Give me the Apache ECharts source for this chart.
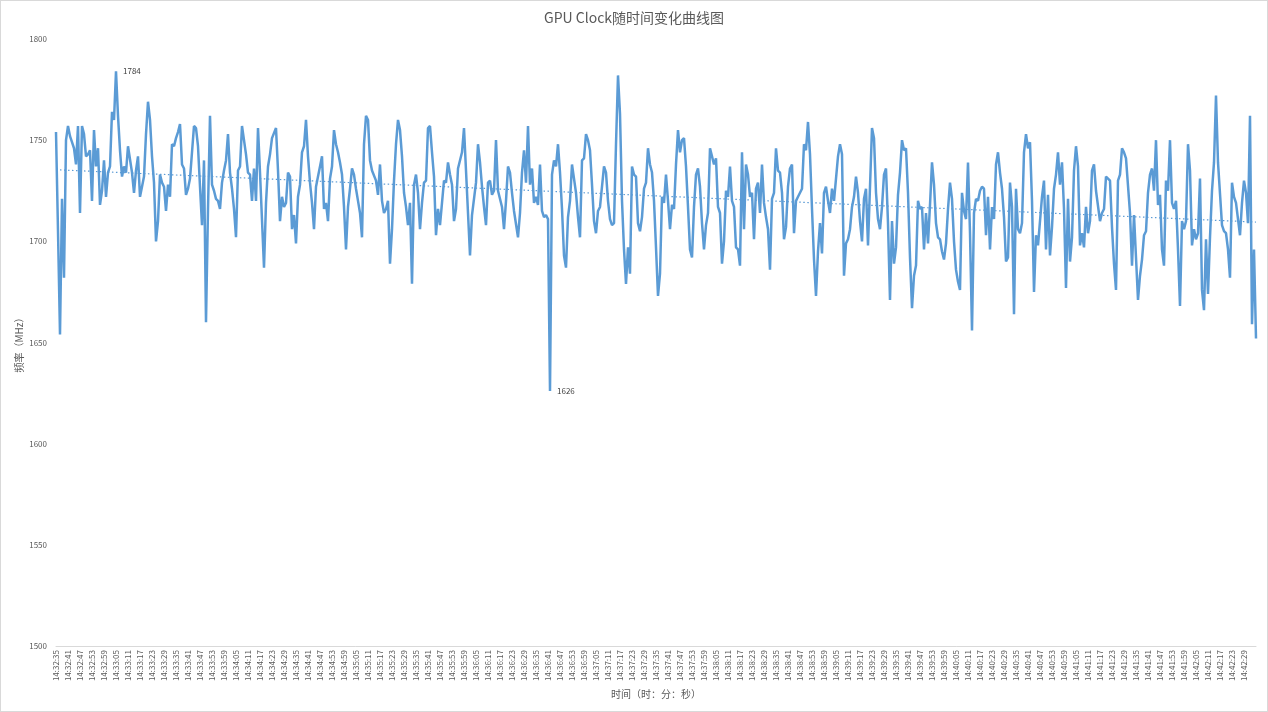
<!DOCTYPE html>
<html>
<head>
<meta charset="utf-8">
<script src="https://cdn.jsdelivr.net/npm/echarts@6/dist/echarts.min.js"></script>
<style>
html,body{margin:0;padding:0;background:#fff}
#chart{width:1268px;height:712px;box-sizing:border-box;border:1px solid #d9d9d9}
</style>
</head>
<body>
<div id="chart"></div>
<script>
// GPU clock samples, one per second starting at 14:32:35
var startTime = '14:32:35';
var clock1 = [1754,1705,1654,1721,1682,1750,1757,1752,1749,1746,
  1738,1757,1714,1757,1753,1742,1743,1745,1720,1755,
  1737,1746,1718,1725,1740,1722,1734,1737,1764,1760,
  1784,1762,1745,1732,1737,1734,1747,1747,1734,1724,
  1735,1742,1722,1727,1732,1753,1769,1760,1742,1729,
  1700,1710,1733,1729,1727,1715,1728,1722,1748,1747,
  1751,1754,1758,1738,1736,1723,1726,1731,1731,1757,
  1756,1747,1727,1708,1740,1660,1716,1762,1728,1725,
  1721,1720,1716,1729,1735,1740,1753,1734,1726,1716,
  1702,1735,1737,1757,1750,1743,1734,1733,1720,1736];
var clock2 = [1720,1756,1734,1734,1687,1719,1737,1743,1751,1751,
  1756,1735,1710,1722,1717,1719,1734,1732,1706,1713,
  1699,1722,1728,1744,1747,1760,1742,1729,1719,1706,
  1727,1732,1737,1742,1716,1719,1710,1731,1737,1755,
  1748,1744,1739,1733,1717,1696,1717,1726,1736,1733,
  1726,1720,1714,1702,1748,1762,1760,1740,1735,1735,
  1730,1723,1738,1720,1714,1716,1720,1689,1706,1730,
  1748,1760,1755,1742,1724,1717,1708,1719,1679,1728,
  1733,1724,1706,1719,1729,1730,1756,1757,1744,1732,
  1703,1716,1708,1708,1730,1729,1739,1733,1728,1710];
var clock3 = [1716,1736,1736,1744,1756,1735,1714,1693,1713,1713,
  1729,1748,1739,1727,1717,1708,1729,1730,1723,1725,
  1750,1725,1725,1717,1706,1720,1737,1734,1724,1715,
  1715,1702,1714,1734,1745,1729,1757,1728,1736,1719,
  1722,1718,1738,1715,1712,1713,1711,1626,1733,1740,
  1737,1748,1734,1716,1693,1687,1712,1720,1738,1731,
  1724,1712,1702,1740,1741,1753,1750,1745,1728,1710,
  1704,1715,1717,1727,1737,1734,1720,1711,1708,1709,
  1748,1782,1763,1720,1696,1679,1697,1684,1737,1733,
  1732,1709,1705,1712,1726,1729,1746,1738,1734,1720];
var clock4 = [1697,1673,1684,1722,1719,1733,1720,1706,1718,1716,
  1738,1755,1744,1750,1751,1737,1717,1696,1692,1717,
  1733,1736,1727,1709,1696,1708,1714,1746,1742,1738,
  1741,1717,1714,1689,1700,1725,1722,1737,1720,1717,
  1697,1696,1688,1744,1706,1738,1733,1722,1724,1701,
  1726,1729,1714,1738,1719,1712,1706,1686,1721,1724,
  1746,1735,1734,1724,1701,1707,1727,1736,1738,1704,
  1720,1722,1722,1726,1748,1745,1759,1743,1716,1691,
  1673,1695,1709,1694,1724,1727,1720,1714,1726,1720,
  1720,1742,1748,1743,1683,1699,1701,1706,1717,1722];
var clock5 = [1732,1724,1710,1700,1721,1726,1698,1727,1756,1751,
  1724,1711,1706,1717,1733,1736,1709,1671,1710,1689,
  1697,1723,1734,1750,1745,1746,1724,1692,1667,1683,
  1688,1720,1716,1717,1696,1714,1699,1718,1739,1728,
  1709,1702,1701,1695,1691,1699,1716,1729,1721,1700,
  1686,1680,1676,1724,1715,1711,1739,1704,1656,1714,
  1721,1720,1725,1727,1726,1703,1722,1696,1717,1711,
  1738,1744,1734,1726,1712,1690,1692,1729,1717,1664,
  1726,1706,1704,1709,1744,1753,1746,1749,1720,1675,
  1703,1698,1698,1722,1730,1696,1723,1693,1707,1726];
var clock6 = [1733,1744,1728,1739,1716,1677,1721,1690,1702,1735,
  1747,1737,1698,1704,1697,1717,1704,1710,1735,1738,
  1725,1725,1710,1714,1716,1732,1731,1730,1707,1689,
  1676,1730,1733,1746,1744,1741,1741,1714,1688,1713,
  1713,1671,1683,1691,1703,1705,1724,1733,1736,1725,
  1750,1718,1723,1696,1688,1730,1725,1750,1719,1716,
  1720,1696,1668,1710,1706,1710,1748,1735,1698,1706,
  1701,1704,1731,1676,1666,1701,1674,1702,1725,1739,
  1772,1739,1739,1708,1705,1704,1696,1682,1729,1722,
  1719,1711,1703,1719,1730,1724,1709,1762,1659,1696,
  1652];

var clockValues = clock1.concat(clock2, clock3, clock4, clock5, clock6);

// time labels hh:mm:ss
var timeLabels = [];
var p = startTime.split(':');
var t0 = (+p[0]) * 3600 + (+p[1]) * 60 + (+p[2]);
function pad(n){ return n < 10 ? '0' + n : '' + n; }
for (var i = 0; i < clockValues.length; i++) {
  var s = t0 + i;
  timeLabels.push(pad(Math.floor(s / 3600)) + ':' + pad(Math.floor(s / 60) % 60) + ':' + pad(s % 60));
}
var lastLabelIdx = 594; // 14:42:29

// linear trend line (least squares, like the spreadsheet trendline)
var n = clockValues.length, sx = 0, sy = 0, sxx = 0, sxy = 0;
clockValues.forEach(function (v, k) { sx += k; sy += v; sxx += k * k; sxy += k * v; });
var slope = (n * sxy - sx * sy) / (n * sxx - sx * sx);
var icpt = (sy - slope * sx) / n;
var trend = clockValues.map(function (v, k) { return +(icpt + slope * k).toFixed(2); });

var fontCN = '"Noto Sans CJK SC", "Noto Sans", sans-serif';
var chart = echarts.init(document.getElementById('chart'));
var option = {
  animation: false,
  backgroundColor: '#fff',
  textStyle: { fontFamily: fontCN },
  title: {
    text: 'GPU Clock随时间变化曲线图',
    left: 'center',
    top: 5,
    textStyle: { fontSize: 14, fontWeight: 'normal', color: '#595959', fontFamily: fontCN }
  },
  grid: { left: 55, right: 11, top: 38, bottom: 65 },
  xAxis: {
    type: 'category',
    boundaryGap: false,
    data: timeLabels,
    name: '时间（时：分：秒）',
    nameLocation: 'middle',
    nameGap: 41,
    nameTextStyle: { fontSize: 10, color: '#595959' },
    axisLine: { lineStyle: { color: '#d9d9d9' } },
    axisTick: { show: false },
    axisLabel: {
      rotate: 90, fontSize: 8, color: '#595959', margin: 4,
      interval: function (idx) { return idx % 6 === 0 && idx <= lastLabelIdx; }
    },
    splitLine: { show: false }
  },
  yAxis: {
    type: 'value',
    min: 1500,
    max: 1800,
    interval: 50,
    name: '频率（MHz）',
    nameLocation: 'middle',
    nameRotate: 90,
    nameGap: 32,
    nameMoveOverlap: false,
    nameTextStyle: { fontSize: 10, color: '#595959' },
    axisLine: { show: false },
    axisTick: { show: false },
    axisLabel: { fontSize: 8, color: '#595959', margin: 9, formatter: function (v) { return String(v); } },
    splitLine: { show: false }
  },
  series: [
    {
      name: 'GPU Clock',
      type: 'line',
      data: clockValues,
      showSymbol: false,
      symbol: 'none',
      lineStyle: { color: '#5b9bd5', width: 2.5 },
      itemStyle: { color: '#5b9bd5' },
      markPoint: {
        symbol: 'circle',
        symbolSize: 2,
        itemStyle: { color: 'rgba(0,0,0,0)' },
        label: { show: true, position: 'right', distance: 6, fontSize: 8, color: '#404040', formatter: '{c}' },
        data: [{ type: 'max' }, { type: 'min' }]
      }
    },
    {
      name: 'trend',
      type: 'line',
      data: trend,
      showSymbol: false,
      symbol: 'none',
      silent: true,
      lineStyle: { color: '#5b9bd5', width: 1.2, type: [1.5, 2.5] }
    }
  ]
};
chart.setOption(option);
</script>
</body>
</html>
